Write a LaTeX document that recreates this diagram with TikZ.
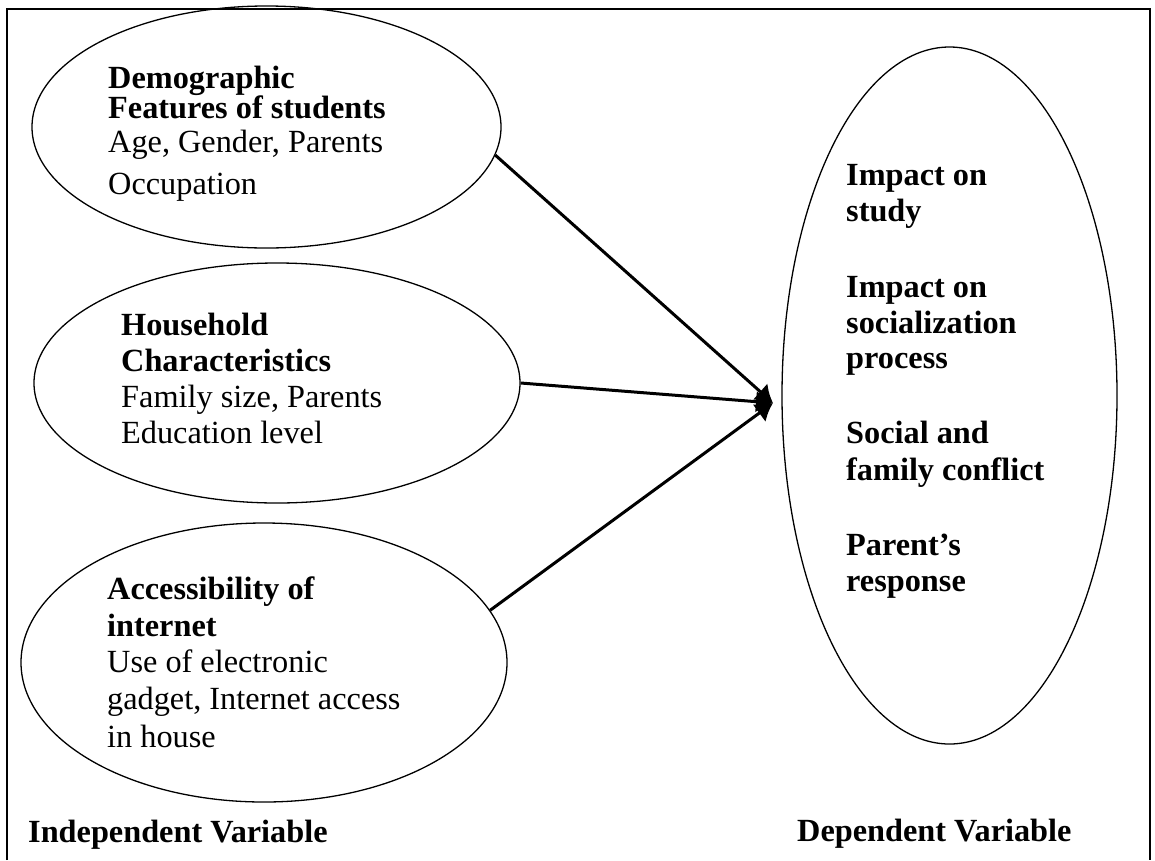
\documentclass[tikz,border=0pt]{standalone}
\usepackage{fontspec}
\setmainfont{Liberation Serif}
\usetikzlibrary{shapes.geometric,arrows.meta}
\begin{document}
\begin{tikzpicture}[x=1pt,y=-1pt,
  oval/.style={draw, ellipse, line width=1.3pt, inner sep=0pt},
  txt/.style={anchor=base west, inner sep=0pt, font=\fontsize{32.3}{38}\selectfont},
  btxt/.style={txt, font=\fontsize{32.3}{38}\selectfont\bfseries},
  link/.style={line width=3pt, -{Latex[length=17pt,width=22pt]}}]
\useasboundingbox (0,0) rectangle (1155,860);
\draw[line width=1.5pt] (7,860) -- (7,9) -- (1150,9) -- (1150,860);

\node[oval, minimum width=469pt, minimum height=242pt] (e1) at (266.5,127) {};
\node[oval, minimum width=486pt, minimum height=240pt] (e2) at (277,383) {};
\node[oval, minimum width=486pt, minimum height=279pt] (e3) at (264,662.5) {};
\node[oval, minimum width=335pt, minimum height=697pt] (e4) at (949.5,395.5) {};

\node[btxt] (t11) at (108,88) {Demographic};
\node[btxt] (t12) at (108,118) {Features of students};
\node[txt] (t13) at (108,152) {Age, Gender, Parents};
\node[txt] (t14) at (108,194) {Occupation};

\node[btxt] (t21) at (121,335) {Household};
\node[btxt] (t22) at (121,371) {Characteristics};
\node[txt] (t23) at (121,407) {Family size, Parents};
\node[txt] (t24) at (121,443) {Education level};

\node[btxt] (t31) at (107,599) {Accessibility of};
\node[btxt] (t32) at (107,636) {internet};
\node[txt] (t33) at (107,672) {Use of electronic};
\node[txt] (t34) at (107,709) {gadget, Internet access};
\node[txt] (t35) at (107,747) {in house};

\node[btxt] (r1) at (846,185) {Impact on};
\node[btxt] (r2) at (846,221) {study};
\node[btxt] (r3) at (846,297) {Impact on};
\node[btxt] (r4) at (846,333) {socialization};
\node[btxt] (r5) at (846,368) {process};
\node[btxt] (r6) at (846,443) {Social and};
\node[btxt] (r7) at (846,480) {family conflict};
\node[btxt] (r8) at (846,555) {Parent’s};
\node[btxt] (r9) at (846,591) {response};

\node[btxt] (iv) at (28,842) {Independent Variable};
\node[btxt] (dv) at (797,841) {Dependent Variable};

\coordinate (tip) at (773,403);
\draw[link] (e1.-7) -- (tip);
\draw[link] (e2.east) -- (tip);
\draw[link] (e3.13) -- (tip);
\end{tikzpicture}
\end{document}
